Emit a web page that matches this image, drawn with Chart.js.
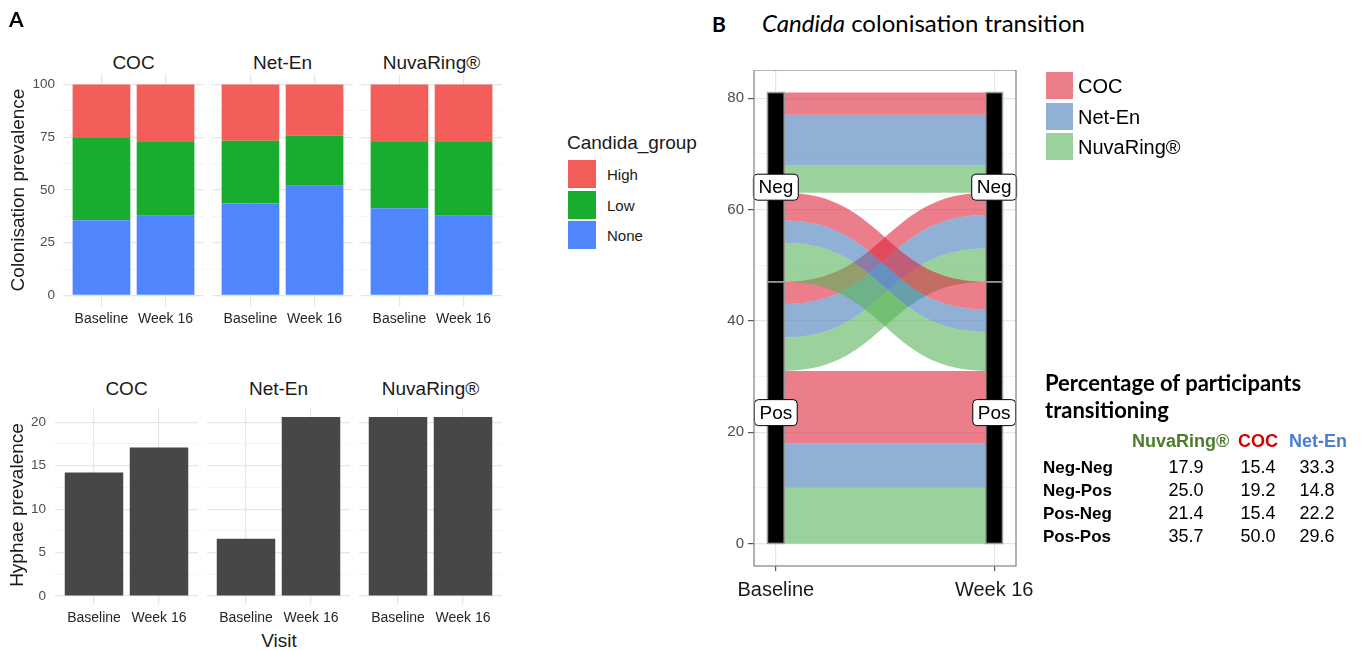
<!DOCTYPE html>
<html>
<head>
<meta charset="utf-8">
<script src="https://cdn.jsdelivr.net/npm/chart.js@4.4.0/dist/chart.umd.min.js"></script>
<style>
  body { margin: 0; background: #fff; }
  #fig { position: relative; width: 1361px; height: 650px; overflow: hidden; background: #fff;
         font-family: 'Liberation Sans', Arial, sans-serif; color: #1a1a1a; }
  #fig canvas { position: absolute; }
  .t { position: absolute; white-space: nowrap; line-height: 1; }
  .key { position: absolute; box-sizing: border-box; border: 1px solid #fff; }
</style>
</head>
<body>
<div id="fig"></div>
<script>
// ---------- data ----------
const visits = ['Baseline', 'Week 16'];
const methods = ['COC', 'Net-En', 'NuvaRing®'];
const candidaGroups = ['High', 'Low', 'None'];
// colonisation prevalence (%), per method: [Baseline, Week 16]
const noneVals = [[35.7, 37.8], [43.6, 52.0], [41.4, 37.8]];
const lowVals  = [[39.3, 34.9], [29.7, 23.7], [31.3, 34.9]];
const highVals = [[25.0, 27.3], [26.7, 24.3], [27.3, 27.3]];
const colonTicks = [0, 25, 50, 75, 100];
// hyphae prevalence (%)
const hyphaeVals = [[14.2, 17.1], [6.6, 20.6], [20.6, 20.6]];
const hyphaeTicks = [0, 5, 10, 15, 20];
// alluvial: participant counts per group [COC, Net-En, NuvaRing®]
const states = ['Pos', 'Neg'];           // stacked bottom -> top
const flowGroups = ['COC', 'Net-En', 'NuvaRing®'];
const negNeg = [4, 9, 5];
const negPos = [5, 4, 7];
const posNeg = [4, 6, 6];
const posPos = [13, 8, 10];
const alluvialTicks = [0, 20, 40, 60, 80];
// table
const tableTitle = ['Percentage of participants', 'transitioning'];
const tableRows = ['Neg-Neg', 'Neg-Pos', 'Pos-Neg', 'Pos-Pos'];
const tableCols = ['NuvaRing®', 'COC', 'Net-En'];
const pctNuva  = ['17.9', '25.0', '21.4', '35.7'];
const pctCOC   = ['15.4', '19.2', '15.4', '50.0'];
const pctNetEn = ['33.3', '14.8', '22.2', '29.6'];

// ---------- styles ----------
const groupColors = { High: '#f35e5a', Low: '#19ad2f', None: '#4f86fd' };
const hyphaeColor = '#474747';
const flowColors = ['rgba(222,40,60,0.6)', 'rgba(72,123,185,0.6)', 'rgba(88,180,88,0.6)'];
const majorGrid = '#e6e6e6', minorGrid = '#f1f1f1';
const headerColors = ['#4b7b2b', '#d50000', '#4a7dd4'];

Chart.defaults.font.family = "'Liberation Sans', Arial, sans-serif";

const fig = document.getElementById('fig');

function addCanvas(left, top, w, h) {
  const c = document.createElement('canvas');
  c.width = w; c.height = h;
  c.style.left = left + 'px'; c.style.top = top + 'px';
  c.style.width = w + 'px'; c.style.height = h + 'px';
  fig.appendChild(c);
  return c;
}

function text(str, x, y, css, anchor) {
  const d = document.createElement('div');
  d.className = 't';
  d.textContent = str;
  d.style.left = x + 'px'; d.style.top = y + 'px';
  Object.assign(d.style, css || {});
  const a = anchor || 'center';
  d.style.transform = a === 'center' ? 'translate(-50%,-50%)' :
                      a === 'left' ? 'translate(0,-50%)' : a;
  fig.appendChild(d);
  return d;
}

function withMinors(major) {
  const all = [];
  major.forEach((v, i) => {
    all.push(v);
    if (i < major.length - 1) all.push((v + major[i + 1]) / 2);
  });
  return all;
}

// ---------- panel A facets ----------
function facet(left, top, areaW, areaH, yw, xh, datasets, yTicks, yMax, showY, yPad) {
  const cv = addCanvas(left, top, areaW + yw, areaH + xh);
  const allTicks = withMinors(yTicks);
  return new Chart(cv, {
    type: 'bar',
    data: { datasets },
    options: {
      responsive: false, animation: false, devicePixelRatio: 1,
      layout: { padding: 0 },
      datasets: { bar: { categoryPercentage: 1, barPercentage: 0.9 } },
      plugins: { legend: { display: false }, tooltip: { enabled: false } },
      scales: {
        x: {
          type: 'linear', min: 0.4, max: 2.6, offset: false,
          afterBuildTicks: s => { s.ticks = visits.map((v, i) => ({ value: i + 1 })); },
          afterFit: s => { s.height = xh; s.paddingLeft = 0; s.paddingRight = 0; },
          ticks: { callback: v => visits[v - 1], color: '#262626', font: { size: 14 },
                   padding: 5, maxRotation: 0, autoSkip: false },
          grid: { color: majorGrid, lineWidth: 1.2, drawTicks: false, offset: false },
          border: { display: false }
        },
        y: {
          min: -yMax * 0.05, max: yMax * 1.05, stacked: true,
          afterBuildTicks: s => { s.ticks = allTicks.map(v => ({ value: v })); },
          afterFit: s => { s.width = yw; s.paddingTop = 0; s.paddingBottom = 0; },
          ticks: { display: showY, callback: v => yTicks.includes(v) ? String(v) : '',
                   color: '#4d4d4d', font: { size: 13.5 }, padding: yPad, autoSkip: false },
          grid: {
            color: c => yTicks.includes(c.tick.value) ? majorGrid : minorGrid,
            lineWidth: c => yTicks.includes(c.tick.value) ? 1.2 : 0.8,
            drawTicks: false
          },
          border: { display: false }
        }
      }
    }
  });
}

function pts(vals) { return vals.map((v, i) => ({ x: i + 1, y: v })); }

const topLefts = [63, 212, 361];
const botLefts = [55, 207, 359];

methods.forEach((m, i) => {
  const first = i === 0;
  const yw = first ? 45 : 0;
  facet(topLefts[i] - yw, 74, 141, 232, yw, 26, [
    { label: 'None', data: pts(noneVals[i]), backgroundColor: groupColors.None, stack: 's' },
    { label: 'Low', data: pts(lowVals[i]), backgroundColor: groupColors.Low, stack: 's' },
    { label: 'High', data: pts(highVals[i]), backgroundColor: groupColors.High, stack: 's' }
  ], colonTicks, 100, first, 8);

  const hMax = Math.max(...hyphaeVals.flat());
  const yw2 = first ? 40 : 0;
  facet(botLefts[i] - yw2, 408, 143, 197, yw2, 24, [
    { label: 'Hyphae', data: pts(hyphaeVals[i]), backgroundColor: hyphaeColor, stack: 's' }
  ], hyphaeTicks, hMax, first, 9);

  text(m, topLefts[i] + 70.5, 62, { fontSize: '19px' });
  text(m, botLefts[i] + 71.5, 388, { fontSize: '19px' });
});

text('Colonisation prevalence', 17, 190, { fontSize: '19px' }, 'translate(-50%,-50%) rotate(-90deg)');
text('Hyphae prevalence', 16, 505, { fontSize: '19px' }, 'translate(-50%,-50%) rotate(-90deg)');
text('Visit', 279, 640, { fontSize: '19px' });

// legend A
text('Candida_group', 567, 142, { fontSize: '19px' }, 'left');
candidaGroups.forEach((g, i) => {
  const k = document.createElement('div');
  k.className = 'key';
  Object.assign(k.style, { left: '567px', top: (159 + i * 30.5) + 'px', width: '30px', height: '30px',
                           background: groupColors[g] });
  fig.appendChild(k);
  text(g, 607, 174 + i * 30.5, { fontSize: '15px' }, 'left');
});

// panel labels
text('A', 9, 18, { fontFamily: 'Lato, sans-serif', fontWeight: 'bold', fontSize: '21px', color: '#000' }, 'left');
text('B', 712, 23, { fontFamily: 'Lato, sans-serif', fontWeight: 'bold', fontSize: '21px', color: '#000' }, 'left');
const ttl = text('', 762, 23, { fontFamily: 'Lato, sans-serif', fontSize: '24px', color: '#000' }, 'left');
ttl.innerHTML = '<i>Candida</i> colonisation transition';

// ---------- panel B alluvial ----------
const pairCounts = { 'Pos-Pos': posPos, 'Pos-Neg': posNeg, 'Neg-Pos': negPos, 'Neg-Neg': negNeg };
const stratumW = 0.0765;

function buildFlows() {
  const flows = {};
  const groupOrder = flowGroups.map((g, i) => i).reverse(); // NuvaRing at bottom
  let y = 0;
  states.forEach(s1 => states.forEach(s2 => groupOrder.forEach(g => {
    const key = s1 + '-' + s2 + '-' + g;
    const n = pairCounts[s1 + '-' + s2][g];
    flows[key] = { g, y1: [y, y + n] };
    y += n;
  })));
  y = 0;
  states.forEach(s2 => states.forEach(s1 => groupOrder.forEach(g => {
    const key = s1 + '-' + s2 + '-' + g;
    const n = pairCounts[s1 + '-' + s2][g];
    flows[key].y2 = [y, y + n];
    y += n;
  })));
  return flows;
}

function strata() {
  // per axis, per state: [lo, hi]
  const out = [];
  [0, 1].forEach(ax => {
    let y = 0;
    states.forEach(s => {
      let n = 0;
      states.forEach(o => {
        const key = ax === 0 ? s + '-' + o : o + '-' + s;
        n += pairCounts[key].reduce((a, b) => a + b, 0);
      });
      out.push({ ax: ax + 1, state: s, lo: y, hi: y + n });
      y += n;
    });
  });
  return out;
}

const total = Object.values(pairCounts).flat().reduce((a, b) => a + b, 0);

const alluvialPlugin = {
  id: 'alluvial',
  beforeDatasetsDraw(chart) {
    const { ctx, scales: { x, y } } = chart;
    const xa = x.getPixelForValue(1 + stratumW / 2);
    const xb = x.getPixelForValue(2 - stratumW / 2);
    const xm = (xa + xb) / 2;
    const flows = buildFlows();
    ctx.save();
    Object.values(flows).forEach(f => {
      const a0 = y.getPixelForValue(f.y1[0]), a1 = y.getPixelForValue(f.y1[1]);
      const b0 = y.getPixelForValue(f.y2[0]), b1 = y.getPixelForValue(f.y2[1]);
      ctx.beginPath();
      ctx.moveTo(xa, a1);
      ctx.bezierCurveTo(xm, a1, xm, b1, xb, b1);
      ctx.lineTo(xb, b0);
      ctx.bezierCurveTo(xm, b0, xm, a0, xa, a0);
      ctx.closePath();
      ctx.fillStyle = flowColors[f.g];
      ctx.fill();
    });
    // strata
    const st = strata();
    st.forEach(s => {
      const l = x.getPixelForValue(s.ax - stratumW / 2);
      const r = x.getPixelForValue(s.ax + stratumW / 2);
      const t = y.getPixelForValue(s.hi), b = y.getPixelForValue(s.lo);
      ctx.fillStyle = '#000';
      ctx.fillRect(l, t, r - l, b - t);
      ctx.strokeStyle = '#9a9a9a';
      ctx.lineWidth = 1.5;
      ctx.strokeRect(l, t, r - l, b - t);
    });
    // stratum labels
    ctx.font = "19px 'Liberation Sans', Arial, sans-serif";
    ctx.textAlign = 'center';
    ctx.textBaseline = 'middle';
    st.forEach(s => {
      const cx = x.getPixelForValue(s.ax);
      const cy = y.getPixelForValue((s.lo + s.hi) / 2);
      const w = ctx.measureText(s.state).width + 10, h = 26;
      ctx.beginPath();
      ctx.roundRect(cx - w / 2, cy - h / 2, w, h, 4);
      ctx.fillStyle = '#fff';
      ctx.fill();
      ctx.strokeStyle = '#000';
      ctx.lineWidth = 1;
      ctx.stroke();
      ctx.fillStyle = '#000';
      ctx.fillText(s.state, cx, cy + 1);
    });
    ctx.restore();
  },
  afterDraw(chart) {
    const { ctx, chartArea: a } = chart;
    ctx.save();
    ctx.strokeStyle = '#8a8a8a';
    ctx.lineWidth = 1.3;
    ctx.strokeRect(a.left, a.top, a.right - a.left, a.bottom - a.top);
    ctx.restore();
  }
};

const aTicks = withMinors(alluvialTicks);
new Chart(addCanvas(700, 70, 350, 540), {
  type: 'scatter',
  data: { datasets: [{ data: [] }] },
  options: {
    responsive: false, animation: false, devicePixelRatio: 1,
    layout: { padding: { right: 34 } },
    plugins: { legend: { display: false }, tooltip: { enabled: false } },
    scales: {
      x: {
        type: 'linear', min: 0.9, max: 2.1,
        afterBuildTicks: s => { s.ticks = visits.map((v, i) => ({ value: i + 1 })); },
        afterFit: s => { s.height = 44; s.paddingLeft = 0; s.paddingRight = 0; },
        ticks: { callback: v => visits[v - 1], color: '#1a1a1a', font: { size: 20 }, padding: 7,
                 maxRotation: 0, autoSkip: false },
        grid: { color: majorGrid, lineWidth: 1.2, tickColor: '#555', tickLength: 5 },
        border: { display: false }
      },
      y: {
        min: -total * 0.05, max: total * 1.05,
        afterBuildTicks: s => { s.ticks = aTicks.map(v => ({ value: v })); },
        afterFit: s => { s.width = 54; s.paddingTop = 0; s.paddingBottom = 0; },
        ticks: { callback: v => alluvialTicks.includes(v) ? String(v) : '', color: '#4d4d4d',
                 font: { size: 15 }, padding: 4, autoSkip: false },
        grid: {
          color: c => alluvialTicks.includes(c.tick.value) ? majorGrid : minorGrid,
          lineWidth: c => alluvialTicks.includes(c.tick.value) ? 1.2 : 0.8,
          tickColor: c => alluvialTicks.includes(c.tick.value) ? '#555' : 'rgba(0,0,0,0)',
          tickLength: 6
        },
        border: { display: false }
      }
    }
  },
  plugins: [alluvialPlugin]
});

// legend B
flowGroups.forEach((g, i) => {
  const k = document.createElement('div');
  k.className = 'key';
  Object.assign(k.style, { left: '1045px', top: (71 + i * 30.5) + 'px', width: '29px', height: '29px',
                           background: flowColors[i] });
  fig.appendChild(k);
  text(g, 1078, 86 + i * 30.5, { fontSize: '20px', color: '#000' }, 'left');
});

// table
tableTitle.forEach((line, i) => {
  text(line, 1045, 383 + i * 27, { fontFamily: 'Lato, sans-serif', fontWeight: 'bold', fontSize: '22px', color: '#000' }, 'left');
});
const headerLefts = [1132, 1238, 1289];
tableCols.forEach((c, i) => {
  text(c, headerLefts[i], 441, { fontWeight: 'bold', fontSize: '18px', color: headerColors[i] }, 'left');
});
const colCenters = [1186, 1258, 1317];
const colVals = [pctNuva, pctCOC, pctNetEn];
const rowY = [467, 490, 513, 536];
tableRows.forEach((r, ri) => {
  text(r, 1043, rowY[ri], { fontWeight: 'bold', fontSize: '17px', color: '#000' }, 'left');
  colVals.forEach((vals, ci) => {
    text(vals[ri], colCenters[ci], rowY[ri], { fontSize: '18px', color: '#000' });
  });
});
</script>
</body>
</html>
